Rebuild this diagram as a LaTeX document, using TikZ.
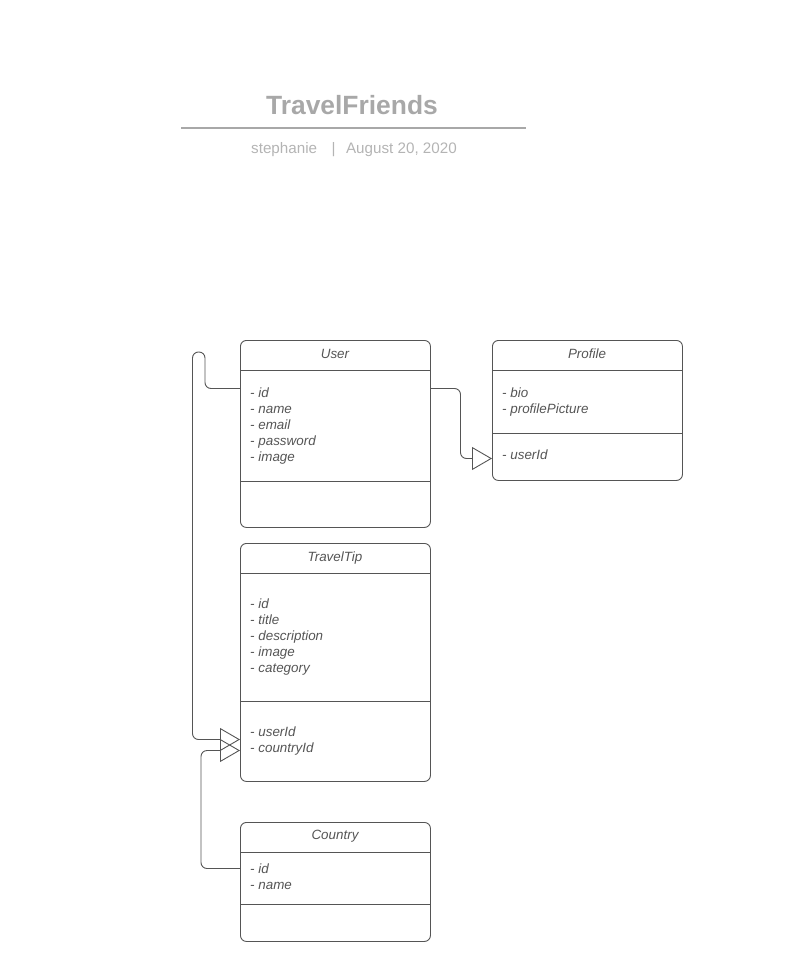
\documentclass[tikz,border=0pt]{standalone}
\usepackage{fontspec}
\setmainfont{Liberation Sans}
\usetikzlibrary{arrows.meta, positioning}
\definecolor{umlgray}{RGB}{85,85,85}
\definecolor{titlegray}{RGB}{168,168,168}
\definecolor{subgray}{RGB}{180,180,180}

\begin{document}
\begin{tikzpicture}[x=1pt, y=-1pt,
    classbox/.style={draw=umlgray, line width=0.9pt, rounded corners=6pt, anchor=north west,
        minimum width=190pt, inner sep=0pt},
    classname/.style={anchor=base, text=umlgray, font=\fontsize{13.4}{16}\selectfont\itshape},
    attrs/.style={anchor=north west, align=left, inner sep=0pt, text=umlgray,
        font=\fontsize{13.4}{16.1}\selectfont\itshape},
    divider/.style={draw=umlgray, line width=0.9pt},
    assoc/.style={draw=umlgray, line width=0.9pt, rounded corners=6pt,
        -{Triangle[open, length=20pt, width=23pt]}}]
                    \useasboundingbox (0,0) rectangle (786,976);

                    % heading
                    \node[anchor=base, text=titlegray, font=\fontsize{26.4}{30}\selectfont\bfseries] (Title) at (352,115) {TravelFriends};
                    \draw[titlegray, line width=1.3pt] (181,128) -- (526,128);
                    \node[anchor=base, text=subgray, font=\fontsize{15.2}{18}\selectfont] (Sub) at (354,154) {stephanie\hspace{14.5pt}|\hspace{10.5pt}August 20, 2020};

                    % classes
                    \node[classbox, minimum height=187pt] (User) at (240,340) {};
                    \node[classbox, minimum height=140pt] (Profile) at (492,340) {};
                    \node[classbox, minimum height=238pt] (TravelTip) at (240,543) {};
                    \node[classbox, minimum height=119pt] (Country) at (240,822) {};

                    \node[classname] (Uname) at (335,358.5) {User};
                    \node[classname] (Pname) at (587,358.5) {Profile};
                    \node[classname] (Tname) at (335,561.7) {TravelTip};
                    \node[classname] (Cname) at (335,839.2) {Country};

                    \draw[divider] (User.west |- 0,370.5) -- (User.east |- 0,370.5);
                    \draw[divider] (User.west |- 0,481) -- (User.east |- 0,481);
                    \draw[divider] (Profile.west |- 0,370.5) -- (Profile.east |- 0,370.5);
                    \draw[divider] (Profile.west |- 0,433.5) -- (Profile.east |- 0,433.5);
                    \draw[divider] (TravelTip.west |- 0,573) -- (TravelTip.east |- 0,573);
                    \draw[divider] (TravelTip.west |- 0,701) -- (TravelTip.east |- 0,701);
                    \draw[divider] (Country.west |- 0,852) -- (Country.east |- 0,852);
                    \draw[divider] (Country.west |- 0,904) -- (Country.east |- 0,904);

                    \node[attrs] (Uattr) at (250,387.4) {- id\\- name\\- email\\- password\\- image};
                    \node[attrs] (Pattr) at (502,387.4) {- bio\\- profilePicture};
                    \node[attrs] (Pkey) at (502,449.7) {- userId};
                    \node[attrs] (Tattr) at (250,598.4) {- id\\- title\\- description\\- image\\- category};
                    \node[attrs] (Tkey) at (250,726.4) {- userId\\- countryId};
                    \node[attrs] (Cattr) at (250,863.4) {- id\\- name};

                    % connectors
                    \coordinate (Uout) at (User.east |- 0,388.5);
                    \coordinate (Uback) at (User.west |- 0,388.5);
                    \coordinate (Pin) at (Profile.west |- 0,458.5);
                    \coordinate (Tin1) at (TravelTip.west |- 0,739.5);
                    \coordinate (Tin2) at (TravelTip.west |- 0,750.5);
                    \coordinate (Cout) at (Country.west |- 0,868.5);

                    \draw[assoc] (Uout) -| (460.5,458.5) -- (Pin);
                    \draw[assoc] (Uback) -| (205,352) -| (192.5,739.5) -- (Tin1);
                    \draw[assoc] (Cout) -| (201,750.5) -- (Tin2);
\end{tikzpicture}
\end{document}
